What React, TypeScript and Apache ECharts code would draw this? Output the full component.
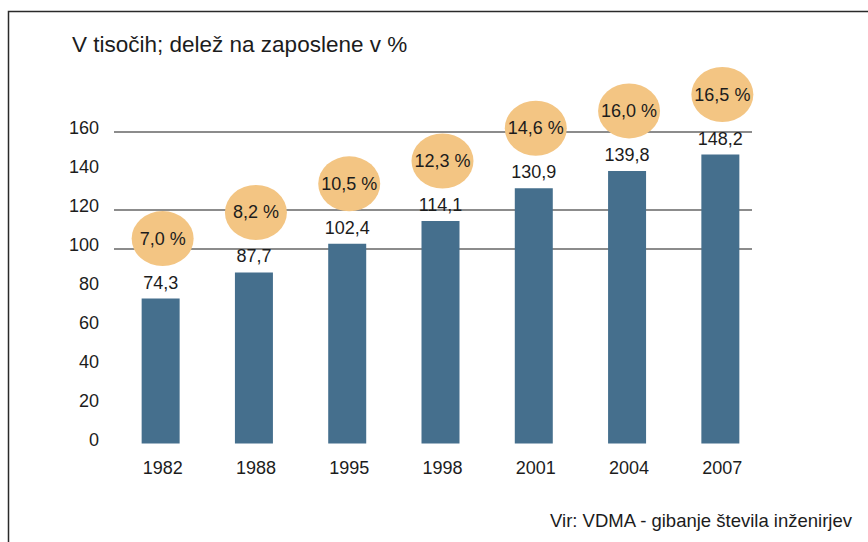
import React, { useEffect, useRef } from "react";
import * as echarts from "echarts";

const years = ["1982", "1988", "1995", "1998", "2001", "2004", "2007"];
const engineers = [74.3, 87.7, 102.4, 114.1, 130.9, 139.8, 148.2];
const shares = [7.0, 8.2, 10.5, 12.3, 14.6, 16.0, 16.5];
const gridValues = [100, 120, 160];
const titleText = "V tisočih; delež na zaposlene v %";
const sourceText = "Vir: VDMA - gibanje števila inženirjev";

const fmt = (v: number) => v.toFixed(1).replace(".", ",");
const FONT = "'Liberation Sans', Arial, Helvetica, sans-serif";
const TXT = "#1c1c1c";
const ELLIPSE = "path://M0,50A50,50,0,1,1,100,50A50,50,0,1,1,0,50Z";

export default function App() {
  const ref = useRef<HTMLDivElement>(null);
  useEffect(() => {
    if (!ref.current) return;
    const chart = echarts.init(ref.current, null, { renderer: "svg" });
    const ticks: number[] = [];
    for (let v = 0; v <= 160; v += 20) ticks.push(v);
    const splitColors = ticks.map((t) => (gridValues.includes(t) ? "#8c8c8c" : "rgba(0,0,0,0)"));
    chart.setOption({
      animation: false,
      backgroundColor: "#ffffff",
      textStyle: { fontFamily: FONT },
      title: {
        text: titleText,
        left: 67,
        top: 28,
        textStyle: { fontFamily: FONT, fontSize: 22.5, fontWeight: "normal", color: TXT },
      },
      grid: [
        { left: 114, right: 101, top: 131.5, bottom: 98.5 },
        { left: 114, right: 116, top: 131.5, bottom: 98.5 },
      ],
      xAxis: [
        {
          type: "category",
          gridIndex: 0,
          data: years,
          axisLine: { show: false },
          axisTick: { show: false },
          axisLabel: { fontSize: 18, color: TXT, margin: 15, padding: [0, 0, 0, 4] },
        },
        { type: "value", gridIndex: 1, min: 0, max: 1, show: false },
      ],
      yAxis: [
        {
          type: "value",
          gridIndex: 0,
          min: 0,
          max: 160,
          interval: 20,
          splitLine: { show: false },
          axisLine: { show: false },
          axisTick: { show: false },
          axisLabel: {
            fontSize: 18,
            color: TXT,
            margin: 15,
            verticalAlign: "bottom",
            lineHeight: 8,
          },
        },
        {
          type: "value",
          gridIndex: 1,
          min: 0,
          max: 160,
          interval: 20,
          axisLine: { show: false },
          axisTick: { show: false },
          axisLabel: { show: false },
          splitLine: { show: true, lineStyle: { color: splitColors, width: 2 } },
        },
      ],
      series: [
        {
          type: "bar",
          xAxisIndex: 0,
          yAxisIndex: 0,
          data: engineers,
          barWidth: 38,
          itemStyle: { color: "#456F8D" },
          z: 3,
          label: {
            show: true,
            position: "top",
            distance: 7,
            fontSize: 18,
            color: TXT,
            formatter: (p: any) => fmt(p.value),
          },
        },
        {
          type: "scatter",
          xAxisIndex: 0,
          yAxisIndex: 0,
          data: engineers.map((v, i) => [years[i], v]),
          symbol: ELLIPSE,
          symbolKeepAspect: false,
          symbolSize: [62, 55],
          symbolOffset: [2, -60],
          clip: false,
          z: 4,
          itemStyle: { color: "#F3C583", opacity: 1 },
          label: {
            show: true,
            position: "inside",
            fontSize: 18,
            color: TXT,
            formatter: (p: any) => fmt(shares[p.dataIndex]) + " %",
          },
        },
      ],
      graphic: [
        {
          type: "polyline",
          shape: { points: [[8.5, 542], [8.5, 11.5], [868, 11.5]] },
          style: { stroke: "#2a2a2a", lineWidth: 1.5, fill: "none" },
          silent: true,
        },
        {
          type: "text",
          x: 852,
          y: 520,
          style: {
            text: sourceText,
            fontFamily: FONT,
            fontSize: 18.5,
            fill: TXT,
            textAlign: "right",
            textVerticalAlign: "middle",
          },
        },
      ],
    });
    return () => chart.dispose();
  }, []);
  return (
    <div
      ref={ref}
      style={{ position: "fixed", left: 0, top: 0, width: 868, height: 542 }}
    />
  );
}
